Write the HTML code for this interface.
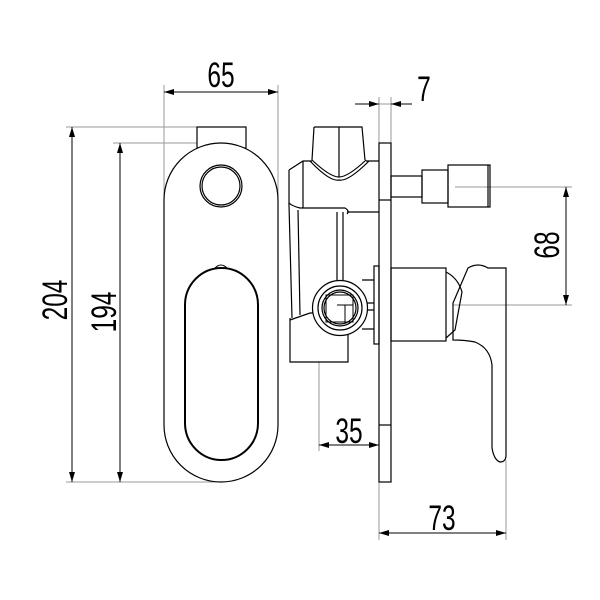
<!DOCTYPE html>
<html><head><style>html,body{margin:0;padding:0;background:#fff}svg{display:block}
text{font-family:"Liberation Sans",sans-serif;font-size:35px;fill:#000}</style></head><body>
<svg width="600" height="600" viewBox="0 0 600 600" xmlns="http://www.w3.org/2000/svg">
<defs><marker id="a" viewBox="0 0 10 6" refX="10" refY="3" markerWidth="10" markerHeight="6" orient="auto-start-reverse" markerUnits="userSpaceOnUse"><path d="M0,0L10,3L0,6z" fill="#000"/></marker></defs>
<g fill="none" stroke="#999" stroke-width="1">
<line x1="164" y1="85" x2="164" y2="200"/><line x1="278" y1="85" x2="278" y2="200"/>
<line x1="66" y1="127" x2="246" y2="127"/><line x1="113" y1="143" x2="221" y2="143"/>
<line x1="66" y1="482" x2="221" y2="482"/>
<line x1="379" y1="97" x2="379" y2="143"/><line x1="391" y1="97" x2="391" y2="143"/>
<line x1="455" y1="187" x2="572" y2="187"/><line x1="453" y1="305" x2="572" y2="305"/>
<line x1="319" y1="362" x2="319" y2="451"/>
<line x1="379" y1="482" x2="379" y2="540"/><line x1="506" y1="460" x2="506" y2="540"/>
</g>
<g stroke="#000" stroke-width="1" fill="none">
<line x1="164" y1="92" x2="278" y2="92" marker-start="url(#a)" marker-end="url(#a)"/>
<line x1="72" y1="127" x2="72" y2="482" marker-start="url(#a)" marker-end="url(#a)"/>
<line x1="120" y1="143" x2="120" y2="482" marker-start="url(#a)" marker-end="url(#a)"/>
<line x1="355" y1="104" x2="379" y2="104" marker-end="url(#a)"/>
<line x1="412" y1="104" x2="391" y2="104" marker-end="url(#a)"/>
<line x1="379" y1="104" x2="391" y2="104" stroke="#999"/>
<line x1="566" y1="187" x2="566" y2="305" marker-start="url(#a)" marker-end="url(#a)"/>
<line x1="319" y1="445" x2="379" y2="445" marker-start="url(#a)" marker-end="url(#a)"/>
<line x1="379" y1="533" x2="506" y2="533" marker-start="url(#a)" marker-end="url(#a)"/>
</g>
<g>
<text x="221" y="87" text-anchor="middle" transform="translate(221 0) scale(0.7 1) translate(-221 0)">65</text>
<text x="424" y="101" text-anchor="middle" transform="translate(424 0) scale(0.7 1) translate(-424 0)">7</text>
<text x="349" y="443" text-anchor="middle" transform="translate(349 0) scale(0.7 1) translate(-349 0)">35</text>
<text x="442" y="530" text-anchor="middle" transform="translate(442 0) scale(0.7 1) translate(-442 0)">73</text>
<text transform="translate(67 300) rotate(-90) scale(0.7 1)" text-anchor="middle">204</text>
<text transform="translate(116 312) rotate(-90) scale(0.7 1)" text-anchor="middle">194</text>
<text transform="translate(559 245) rotate(-90) scale(0.7 1)" text-anchor="middle">68</text>
</g>
<g stroke="#000" stroke-width="1.2" fill="none">
<rect x="197" y="127" width="49" height="21" fill="#fff"/>
<path d="M164,200 A57,57 0 0 1 278,200 L278,425 A57,57 0 0 1 164,425 Z" fill="#fff"/>
<circle cx="221" cy="186" r="21"/><circle cx="221" cy="186" r="19"/>
<path d="M185,305 A36.5,37 0 0 1 258,305 L258,423 A36.5,37 0 0 1 185,423 Z" stroke-width="2"/>
<path d="M215,268 Q221,262 227,268" stroke-width="1"/>
<rect x="379" y="143" width="12" height="339"/>
<line x1="379" y1="200" x2="391" y2="200"/><line x1="379" y1="425" x2="391" y2="425"/>
<rect x="374" y="266" width="5" height="78"/>
<rect x="391" y="176" width="31" height="21"/>
<rect x="422" y="170" width="26" height="33"/>
<rect x="448" y="165" width="42" height="42"/>
<line x1="488" y1="165" x2="488" y2="207"/>
<path d="M314,127 L362,127 L365,160 M314,127 L312,160"/>
<line x1="339" y1="127" x2="339" y2="177"/>
<path d="M312,160 Q330,177 339,177 Q348,177 366,160"/>
<path d="M310,161 Q330,182 339,180 Q348,182 369,161"/>
<path d="M289,170 L289,205 M289,170 L303,161 L312,161 M366,161 L379,161 M303,161 L303,208"/>
<path d="M289,203 Q292,206 300,208 L345,208 Q350,211 347,214 M347,212 L379,212"/>
<path d="M289,205 L292,318 M298,210 L300,315 M337,212 L337,280 M343,212 L343,280"/>
<path d="M290,318 L290,362 L348,362 L348,333"/>
<path d="M290,320 L310,313 L314,313"/>
<path d="M362,280 L374,280 M366,303 L374,303 M366,310 L374,310 M362,329 L374,329"/>
<circle cx="340" cy="308" r="27.5" fill="#fff"/>
<circle cx="340" cy="308" r="22"/><circle cx="340" cy="308" r="18"/><circle cx="340" cy="308" r="16"/>
<path d="M326,295 L353,295 L353,322 L326,322 Z M337,305 L353,305 M345,305 L345,322" stroke-width="1"/>
<rect x="391" y="268" width="55" height="73"/>
<path d="M446,272 Q458,278 462,292 L455,330 L446,338"/>
<path d="M468,268 Q478,262 488,268 L506,268 L506,455 Q506,462 500,462 Q494,460 492,448 L492,365 Q490,348 475,342 Q465,340 453,340 L453,303 Z"/>
</g>
</svg>
</body></html>
